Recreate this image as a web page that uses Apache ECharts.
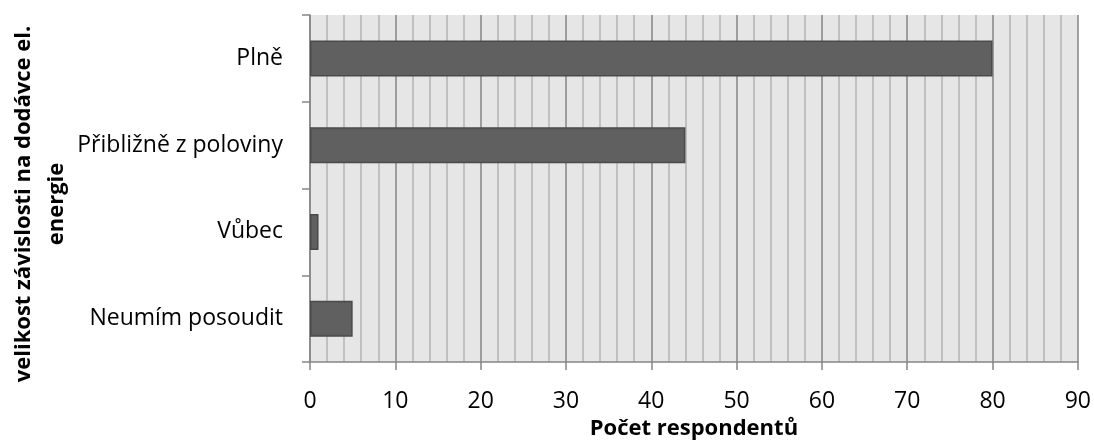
<!DOCTYPE html>
<html>
<head>
<meta charset="utf-8">
<script src="https://cdn.jsdelivr.net/npm/echarts@6/dist/echarts.min.js"></script>
<style>
html,body{margin:0;padding:0;background:#fff;}
#chart{width:1094px;height:448px;}
</style>
</head>
<body>
<div id="chart"></div>
<script>
const categories = ["Plně", "Přibližně z poloviny", "Vůbec", "Neumím posoudit"];
const values = [80, 44, 1, 5];
const xAxisTitle = "Počet respondentů";
const yAxisTitle = "velikost závislosti na dodávce el.\nenergie";

const FONT = "'Open Sans', sans-serif";
const chart = echarts.init(document.getElementById('chart'), null, {renderer: 'canvas'});
chart.setOption({
  animation: false,
  backgroundColor: '#ffffff',
  grid: {left: 310, right: 16, top: 15, bottom: 86, show: true, backgroundColor: '#e6e6e6', borderWidth: 0},
  xAxis: {
    type: 'value', min: 0, max: 90, interval: 10,
    name: xAxisTitle, nameLocation: 'middle', nameGap: 56,
    nameTextStyle: {fontFamily: FONT, fontWeight: 'bold', fontSize: 22, color: '#000'},
    axisLine: {show: true, lineStyle: {color: '#868686', width: 1.5}},
    axisTick: {show: true, length: 8, lineStyle: {color: '#868686', width: 1.5}},
    axisLabel: {fontFamily: FONT, fontSize: 23, color: '#000', margin: 28},
    splitLine: {show: true, lineStyle: {color: '#848484', width: 1.5}},
    minorTick: {show: false, splitNumber: 5},
    minorSplitLine: {show: true, lineStyle: {color: '#b4b4b4', width: 1.5}}
  },
  yAxis: {
    type: 'category', data: categories, inverse: true,
    axisLine: {show: true, lineStyle: {color: '#868686', width: 1.5}},
    axisTick: {show: true, length: 8, lineStyle: {color: '#868686', width: 1.5}},
    axisLabel: {fontFamily: FONT, fontSize: 23, color: '#000', margin: 27},
    splitLine: {show: false}
  },
  graphic: [{
    type: 'text', x: 40, y: 204, rotation: Math.PI / 2,
    style: {text: yAxisTitle, fontFamily: FONT, fontWeight: 'bold', fontSize: 22, fill: '#000',
            align: 'center', verticalAlign: 'middle', lineHeight: 33}
  }],
  series: [{
    type: 'bar', data: values, barWidth: 36,
    itemStyle: {color: '#606060', borderColor: '#4a4a4a', borderWidth: 1.5}
  }]
});
</script>
</body>
</html>
